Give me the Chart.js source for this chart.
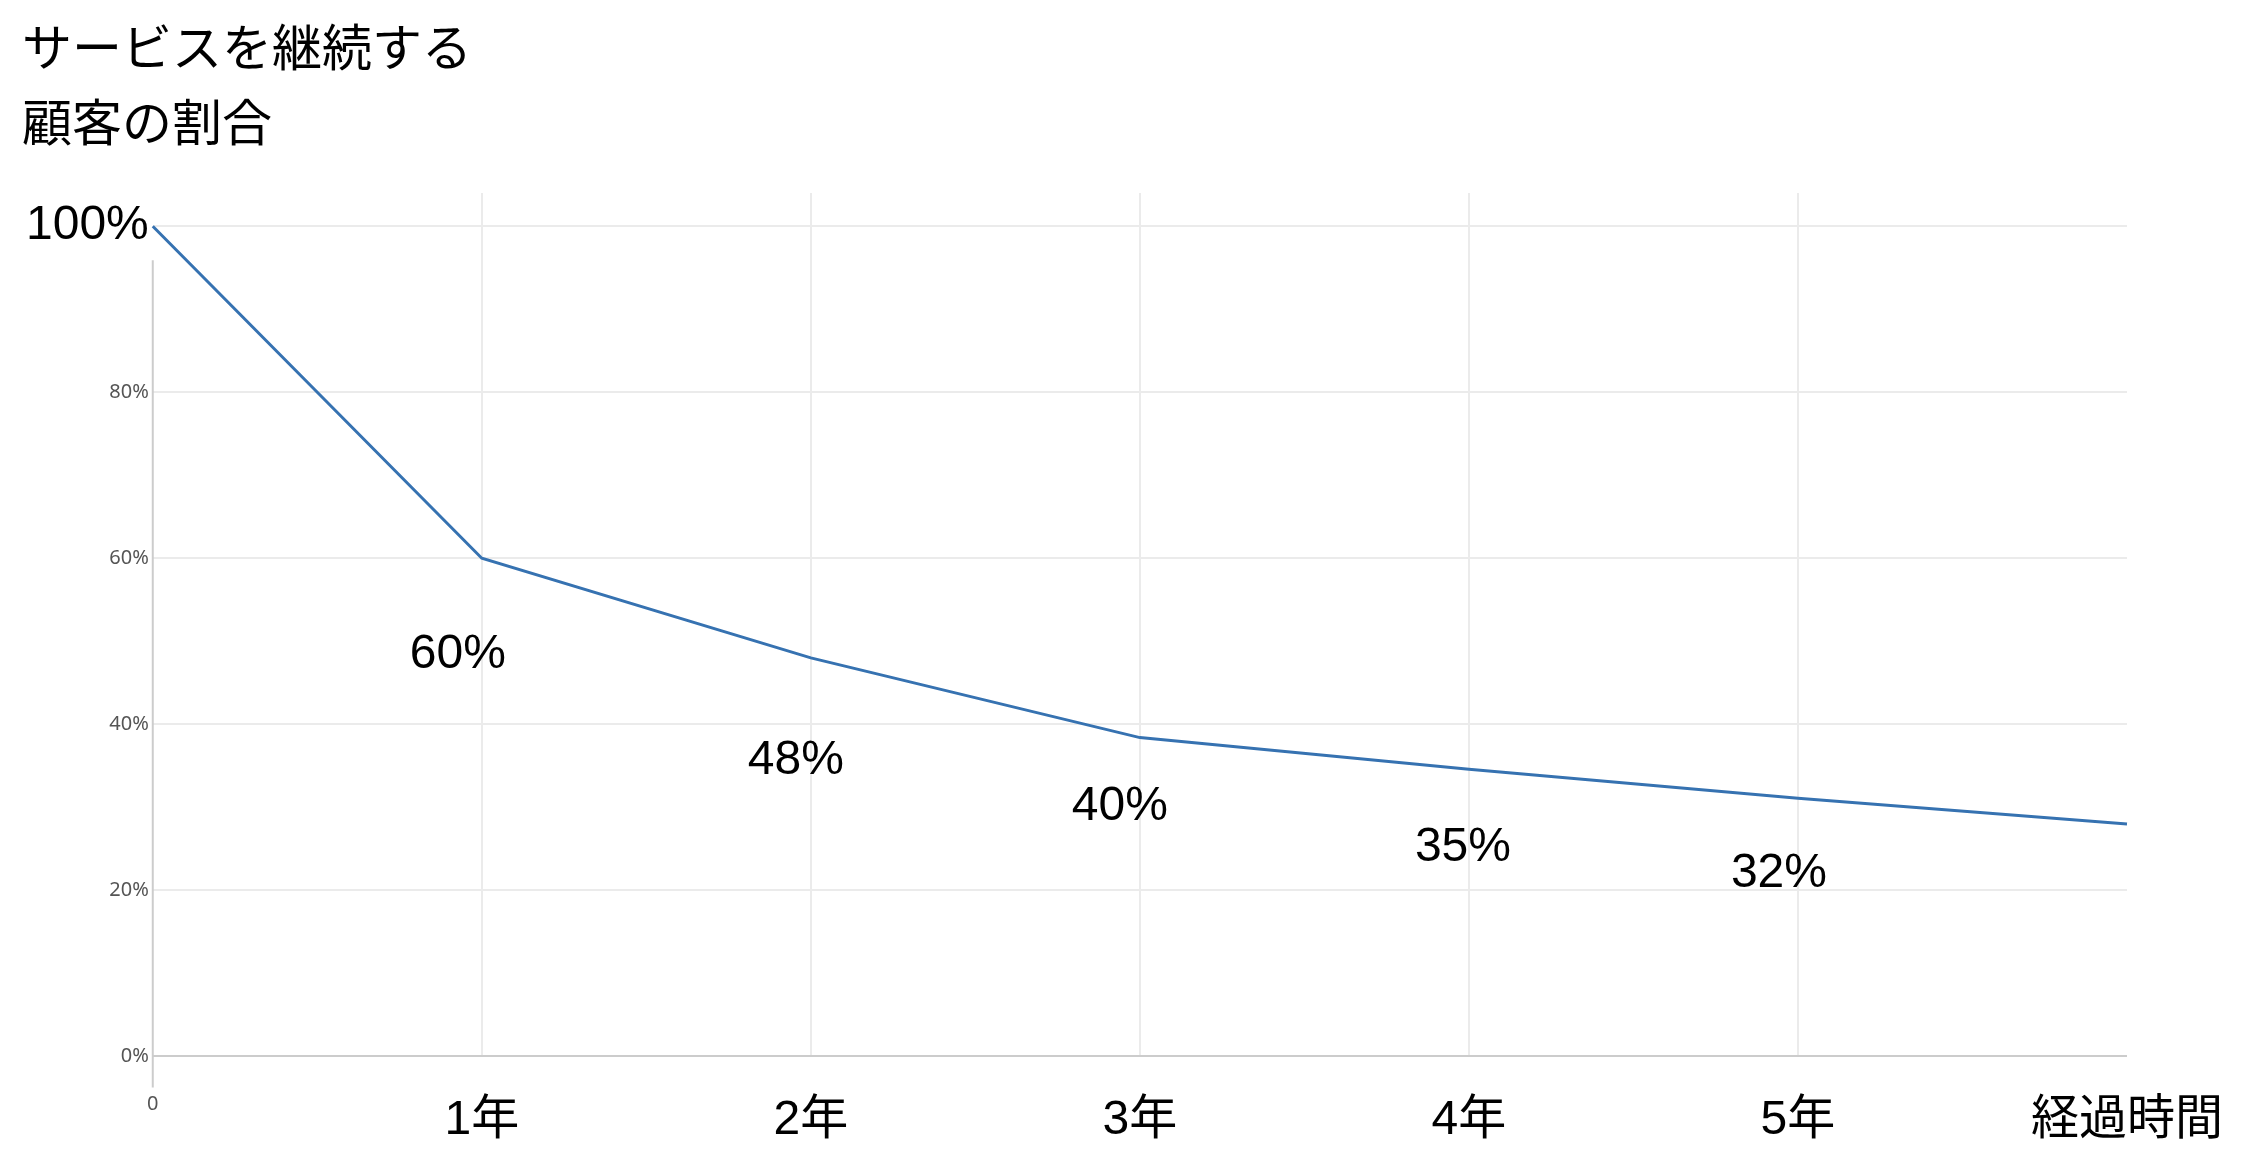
<!DOCTYPE html>
<html>
<head>
    <title>サービスを継続する顧客の割合</title>
    <meta charset="UTF-8">
    <script src="https://cdn.jsdelivr.net/npm/chart.js"></script>
    <style>
        body { margin: 0; background: #fff; }
        #wrap { width: 2264px; height: 1170px; }
    </style>
</head>
<body>
    <div id="wrap"><canvas id="retention_chart"></canvas></div>
    <script>
        // データ
        var titleLines = ['サービスを継続する', '顧客の割合'];
        var periods = ['0', '1年', '2年', '3年', '4年', '5年', '経過時間'];
        var retention = [100, 60, 48, 38.4, 34.6, 31.1, 28];
        var pointLabels = ['', '60%', '48%', '40%', '35%', '32%', ''];
        var yTicks = [0, 20, 40, 60, 80, 100];

        var latin = '"Liberation Sans", "Noto Sans CJK JP", sans-serif';
        var bigFont = { family: latin, size: 48 };
        var smallFont = { family: '"Noto Sans", sans-serif', size: 20 };
        var gridColor = '#ebebeb';
        var axisColor = '#cccccc';
        var none = 'rgba(0,0,0,0)';
        var xTickLen = 31;

        // 各ラベルの点からのずれ (px)
        var labelOffsets = [null, [-24, 96], [-15, 103], [-20, 69], [-6, 79], [-19, 76], null];

        var pointLabelPlugin = {
            id: 'pointLabels',
            beforeDatasetsDraw: function(chart) {
                // 縦軸の線 (100%ラベルの下から始まる)
                var ctx = chart.ctx;
                var x = chart.scales.x.getPixelForValue(0);
                var y0 = chart.scales.y.getPixelForValue(100) + 34;
                var y1 = chart.scales.y.bottom + xTickLen;
                ctx.save();
                ctx.strokeStyle = axisColor;
                ctx.lineWidth = 2;
                ctx.beginPath();
                ctx.moveTo(x, y0);
                ctx.lineTo(x, y1);
                ctx.stroke();
                ctx.restore();
            },
            afterDatasetsDraw: function(chart) {
                var ctx = chart.ctx;
                var meta = chart.getDatasetMeta(0);
                ctx.save();
                ctx.font = '48px ' + latin;
                ctx.fillStyle = '#000';
                ctx.textAlign = 'center';
                ctx.textBaseline = 'middle';
                meta.data.forEach(function(pt, i) {
                    if (!pointLabels[i]) return;
                    var off = labelOffsets[i];
                    ctx.fillText(pointLabels[i], pt.x + off[0], pt.y + off[1]);
                });
                ctx.restore();
            }
        };

        var ctx = document.getElementById('retention_chart').getContext('2d');
        var chart = new Chart(ctx, {
            type: 'line',
            data: {
                labels: periods,
                datasets: [{
                    data: retention,
                    borderColor: '#3672b1',
                    borderWidth: 3,
                    fill: false,
                    tension: 0,
                    pointRadius: 0
                }]
            },
            options: {
                responsive: true,
                maintainAspectRatio: false,
                animation: false,
                layout: { padding: { left: 22, right: 137, top: 0, bottom: 15 } },
                plugins: {
                    legend: { display: false },
                    tooltip: { enabled: false },
                    title: {
                        display: true,
                        text: titleLines,
                        align: 'start',
                        color: '#000',
                        font: { family: '"Noto Sans CJK JP", sans-serif', size: 50, weight: 'normal', lineHeight: 1.5 },
                        padding: { top: 9, bottom: 34 }
                    }
                },
                scales: {
                    x: {
                        type: 'category',
                        offset: false,
                        border: { display: false },
                        grid: {
                            color: function(c) {
                                if (c.index === 0 || c.index === periods.length - 1) return none;
                                return gridColor;
                            },
                            tickColor: none,
                            lineWidth: 2,
                            tickLength: xTickLen
                        },
                        ticks: {
                            autoSkip: false,
                            maxRotation: 0,
                            padding: 5,
                            font: function(c) { return c.index === 0 ? smallFont : bigFont; },
                            color: function(c) { return c.index === 0 ? '#555' : '#000'; }
                        }
                    },
                    y: {
                        min: 0,
                        max: 104,
                        border: { display: false },
                        afterBuildTicks: function(scale) {
                            scale.ticks = yTicks.map(function(v) { return { value: v }; });
                        },
                        grid: {
                            color: function(c) { return c.tick && c.tick.value === 0 ? axisColor : gridColor; },
                            lineWidth: 2,
                            drawTicks: false
                        },
                        ticks: {
                            padding: 4,
                            callback: function(v) { return v + '%'; },
                            font: function(c) { return c.tick && c.tick.value === 100 ? bigFont : smallFont; },
                            color: function(c) { return c.tick && c.tick.value === 100 ? '#000' : '#555'; }
                        }
                    }
                }
            },
            plugins: [pointLabelPlugin]
        });
    </script>
</body>
</html>
